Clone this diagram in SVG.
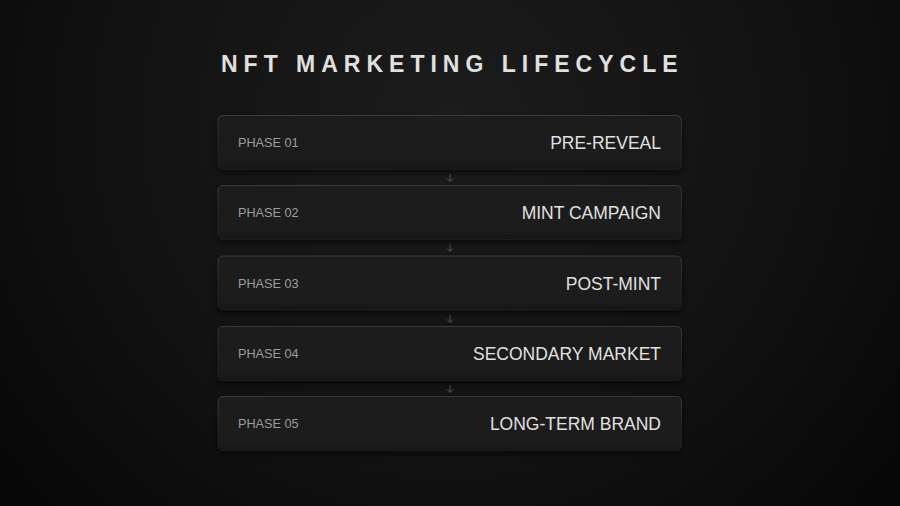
<svg xmlns="http://www.w3.org/2000/svg" width="900" height="506" viewBox="0 0 900 506">
<defs>
<radialGradient id="bg" cx="450" cy="120" r="560" gradientUnits="userSpaceOnUse">
<stop offset="0" stop-color="#1c1c1c"/>
<stop offset="0.6" stop-color="#121212"/>
<stop offset="1" stop-color="#080808"/>
</radialGradient>
<linearGradient id="card" x1="0" y1="0" x2="0" y2="1">
<stop offset="0" stop-color="#1f1f1f"/>
<stop offset="1" stop-color="#191919"/>
</linearGradient>
<linearGradient id="edge" x1="0" y1="0" x2="0" y2="1">
<stop offset="0" stop-color="#3a3a3a"/>
<stop offset="0.5" stop-color="#262626"/>
<stop offset="1" stop-color="#1c1c1c"/>
</linearGradient>
<filter id="sh" x="-10%" y="-20%" width="120%" height="160%">
<feDropShadow dx="0" dy="3" stdDeviation="3" flood-color="#000" flood-opacity="0.6"/>
</filter>
</defs>
<style>
.card{fill:url(#card);stroke:url(#edge);stroke-width:1;filter:url(#sh)}
.ph{font-family:"Liberation Sans",Arial,sans-serif;font-size:12.7px;fill:#9c9c9c}
.nm{font-family:"Liberation Sans",Arial,sans-serif;font-size:17.5px;fill:#e0e0e0;text-anchor:end}
.title{font-family:"Liberation Sans",Arial,sans-serif;font-size:23px;font-weight:bold;fill:#e0e0e0;letter-spacing:6px}
.arr{stroke:#555;stroke-width:1;fill:none}
</style>
<rect width="900" height="506" fill="url(#bg)"/>
<text class="title" x="221" y="72">NFT MARKETING LIFECYCLE</text>
<g id="connectors">
<path class="arr" d="M450 174V181M447 178.5L450 181.5L453 178.5"/>
<path class="arr" d="M450 244V251M447 248.5L450 251.5L453 248.5"/>
<path class="arr" d="M450 315V322M447 319.5L450 322.5L453 319.5"/>
<path class="arr" d="M450 385V392M447 389.5L450 392.5L453 389.5"/>
</g>
<g id="phase01">
<rect class="card" x="218" y="115.5" width="463.5" height="54" rx="5"/>
<text class="ph" x="238" y="147">PHASE 01</text>
<text class="nm" x="661" y="149">PRE-REVEAL</text>
</g>
<g id="phase02">
<rect class="card" x="218" y="185.5" width="463.5" height="54" rx="5"/>
<text class="ph" x="238" y="217">PHASE 02</text>
<text class="nm" x="661" y="219">MINT CAMPAIGN</text>
</g>
<g id="phase03">
<rect class="card" x="218" y="256" width="463.5" height="54" rx="5"/>
<text class="ph" x="238" y="288">PHASE 03</text>
<text class="nm" x="661" y="290">POST-MINT</text>
</g>
<g id="phase04">
<rect class="card" x="218" y="326.5" width="463.5" height="54" rx="5"/>
<text class="ph" x="238" y="358">PHASE 04</text>
<text class="nm" x="661" y="360">SECONDARY MARKET</text>
</g>
<g id="phase05">
<rect class="card" x="218" y="396.5" width="463.5" height="54" rx="5"/>
<text class="ph" x="238" y="428">PHASE 05</text>
<text class="nm" x="661" y="430">LONG-TERM BRAND</text>
</g>
</svg>
